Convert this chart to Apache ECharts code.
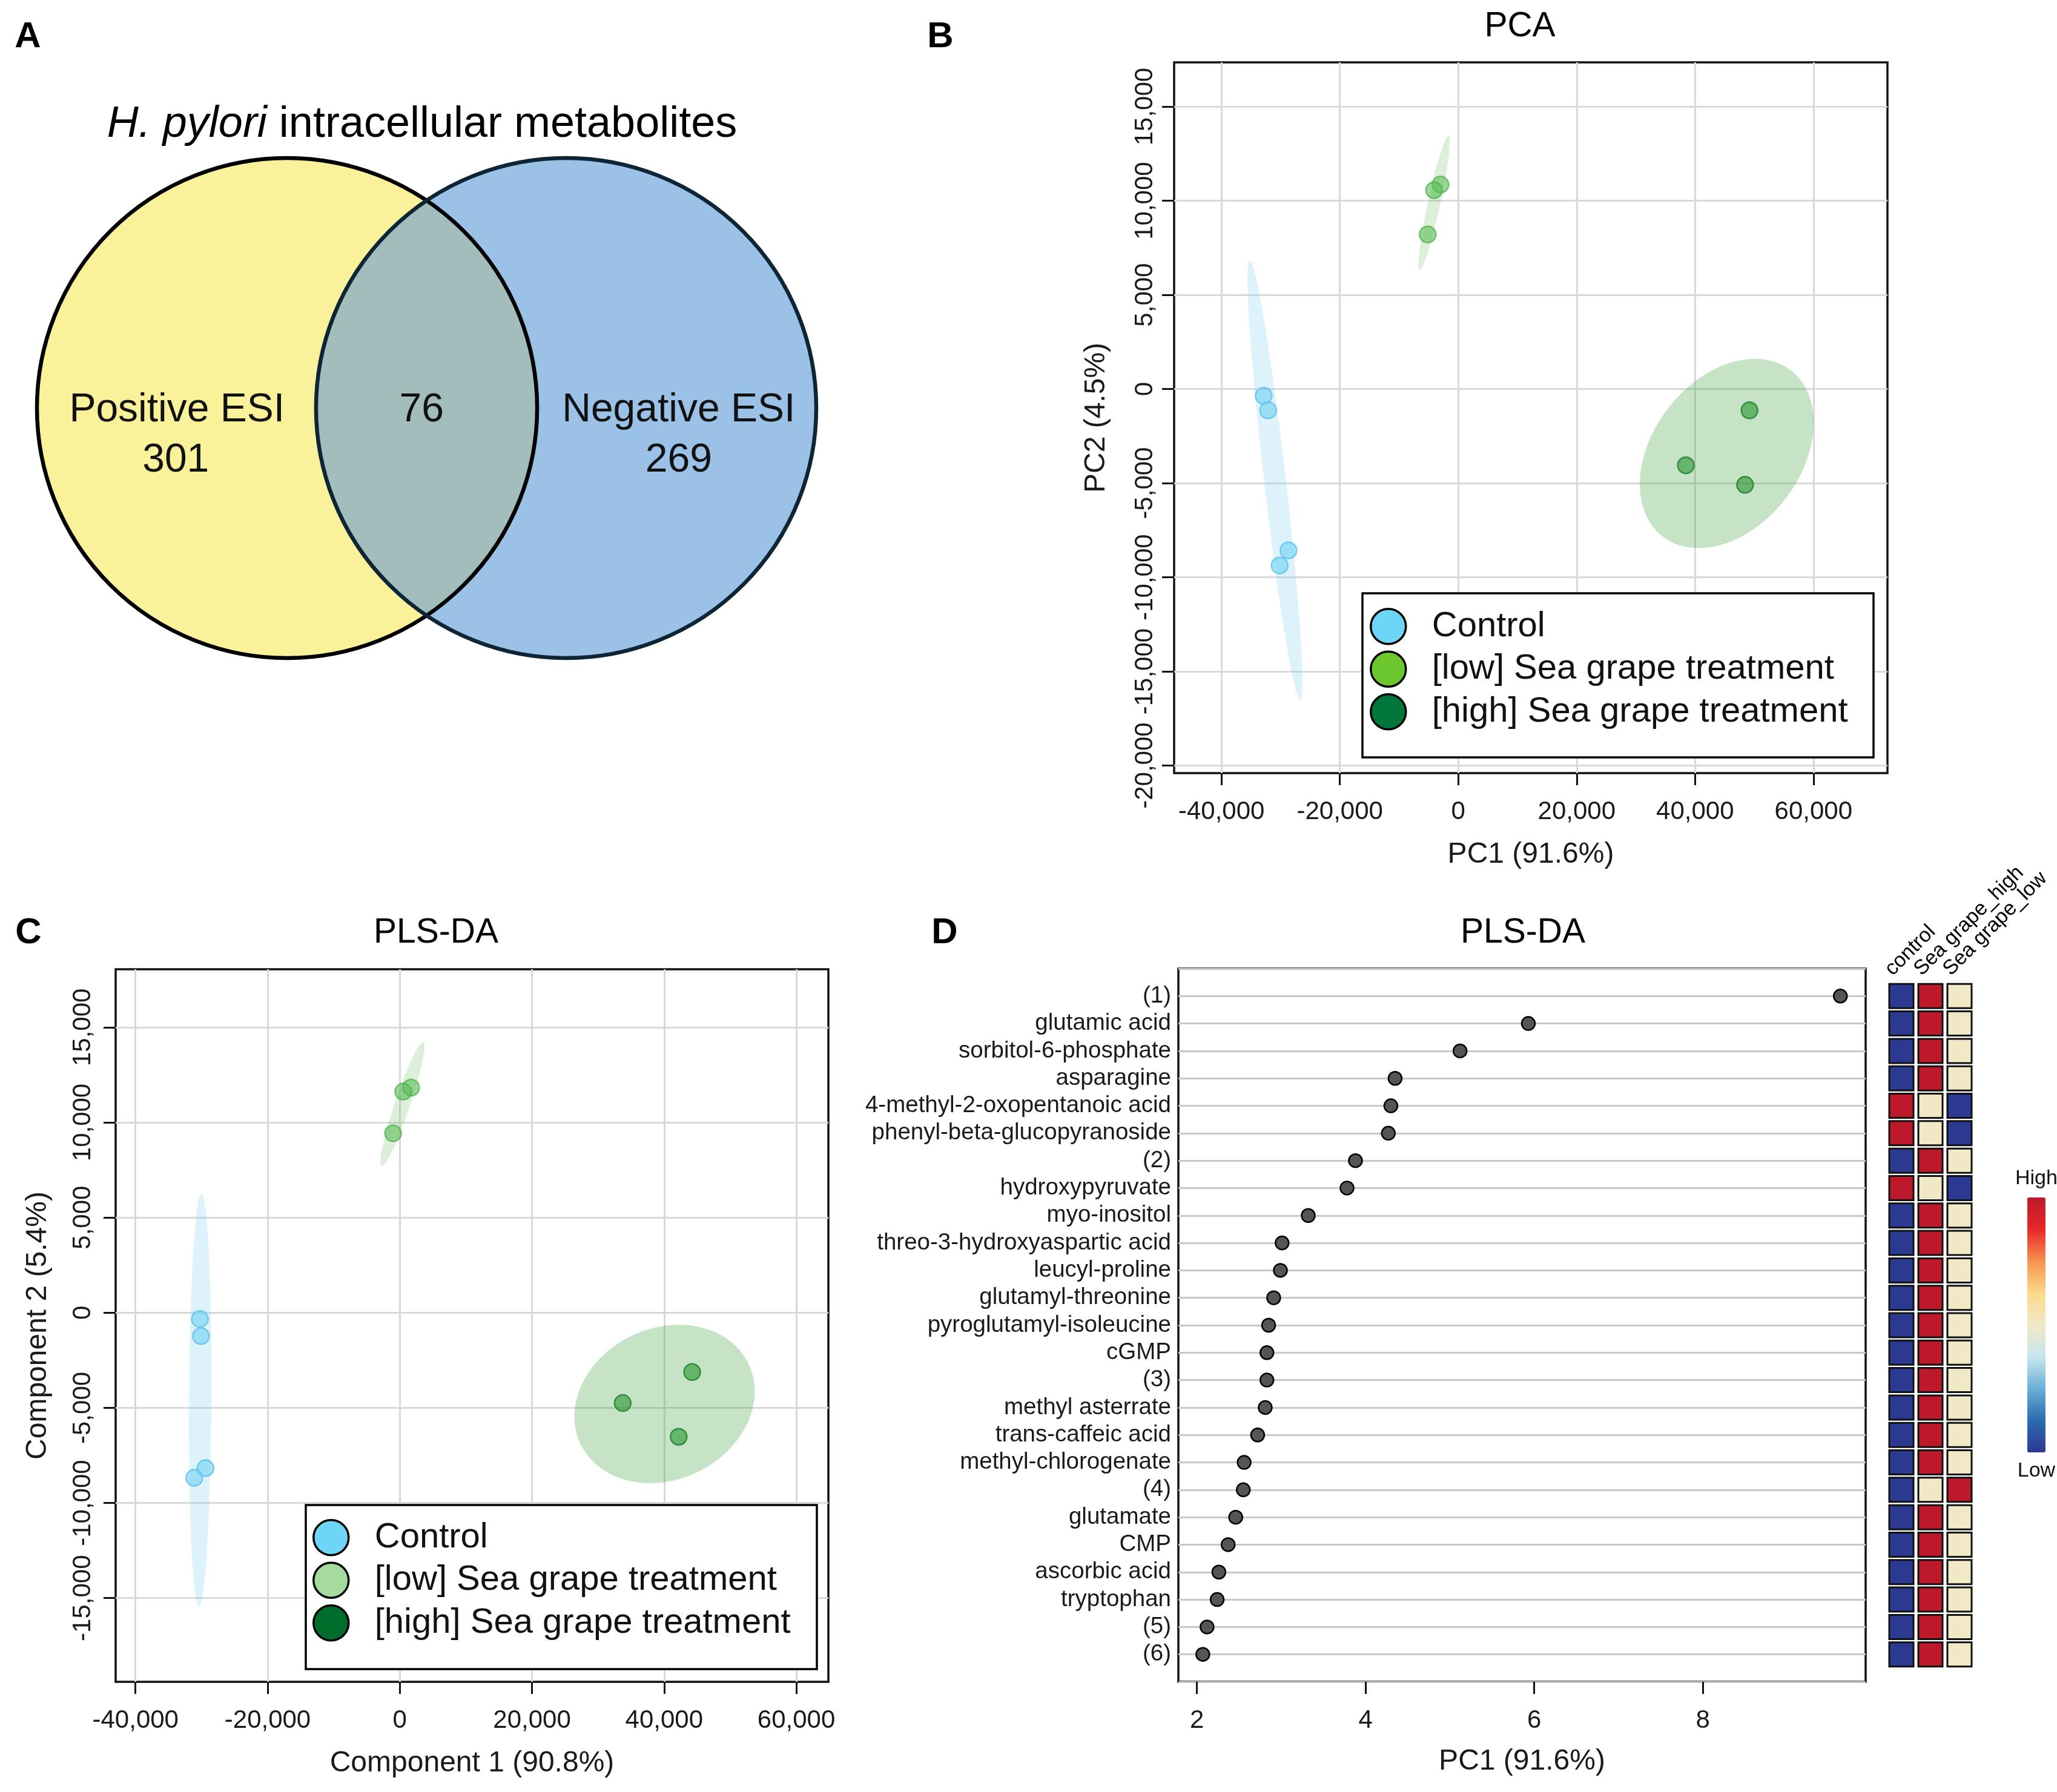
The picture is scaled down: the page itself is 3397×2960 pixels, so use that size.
<!DOCTYPE html>
<html>
<head>
<meta charset="utf-8">
<script src="https://cdn.jsdelivr.net/npm/echarts@6/dist/echarts.min.js"></script>
<style>
html,body{margin:0;padding:0;background:#ffffff;}
#chart{width:3397px;height:2960px;}
</style>
</head>
<body>
<div id="chart"></div>
<script>
// ---------------- DATA ----------------
const groupNames = ['Control', '[low] Sea grape treatment', '[high] Sea grape treatment'];

// Panel B: PCA scores [PC1, PC2]
const pcaControl = [[-32870, -360], [-32120, -1130], [-28680, -8570], [-30180, -9370]];
const pcaLow = [[-3010, 10860], [-4080, 10560], [-5160, 8210]];
const pcaHigh = [[49190, -1130], [38450, -4050], [48440, -5090]];

// Panel C: PLS-DA scores [Component 1, Component 2]
const plsControl = [[-30250, -330], [-30090, -1230], [-29410, -8170], [-31100, -8680]];
const plsLow = [[1700, 11830], [510, 11620], [-1020, 9430]];
const plsHigh = [[44240, -3120], [33730, -4750], [42200, -6520]];

// tick labels
const scoreXTicks = [-40000, -20000, 0, 20000, 40000, 60000];
const pcaYTicks = [-20000, -15000, -10000, -5000, 0, 5000, 10000, 15000];
const plsYTicks = [-15000, -10000, -5000, 0, 5000, 10000, 15000];
const vipXTicks = [2, 4, 6, 8];

// Panel D: top features
const vipNames = ['(1)', 'glutamic acid', 'sorbitol-6-phosphate', 'asparagine',
  '4-methyl-2-oxopentanoic acid', 'phenyl-beta-glucopyranoside', '(2)', 'hydroxypyruvate',
  'myo-inositol', 'threo-3-hydroxyaspartic acid', 'leucyl-proline', 'glutamyl-threonine',
  'pyroglutamyl-isoleucine', 'cGMP', '(3)', 'methyl asterrate', 'trans-caffeic acid',
  'methyl-chlorogenate', '(4)', 'glutamate', 'CMP', 'ascorbic acid', 'tryptophan', '(5)', '(6)'];
const vipScores = [9.63, 5.93, 5.12, 4.35, 4.30, 4.27, 3.88, 3.78, 3.32, 3.01, 2.99, 2.91,
  2.85, 2.83, 2.83, 2.81, 2.72, 2.56, 2.55, 2.46, 2.37, 2.26, 2.24, 2.12, 2.07];

// heatmap columns and levels (0 = low, 1 = middle, 2 = high)
const heatColumns = ['control', 'Sea grape_high', 'Sea grape_low'];
const heatLevels = [
  [0, 2, 1], [0, 2, 1], [0, 2, 1], [0, 2, 1], [2, 1, 0], [2, 1, 0], [0, 2, 1], [2, 1, 0],
  [0, 2, 1], [0, 2, 1], [0, 2, 1], [0, 2, 1], [0, 2, 1], [0, 2, 1], [0, 2, 1], [0, 2, 1],
  [0, 2, 1], [0, 2, 1], [0, 1, 2], [0, 2, 1], [0, 2, 1], [0, 2, 1], [0, 2, 1], [0, 2, 1], [0, 2, 1]];
const heatLegendText = ['High', 'Low'];

// Panel A: Venn
const vennSets = ['Positive ESI', 'Negative ESI'];
const vennCounts = [301, 76, 269]; // left only, shared, right only

// ---------------- STYLE ----------------
const FONT = '"Liberation Sans", Arial, Helvetica, sans-serif';
const TXT = '#1a1a1a';
const pointFill = ['rgba(110,210,245,0.6)', 'rgba(90,190,85,0.6)', 'rgba(40,150,50,0.6)'];
const pointBorder = ['rgba(100,195,235,0.85)', 'rgba(80,175,80,0.75)', 'rgba(30,125,40,0.8)'];
const ellipseFill = ['rgba(135,210,240,0.28)', 'rgba(100,185,90,0.23)', 'rgba(60,160,60,0.29)'];
const legendColorsB = ['#6dd6f7', '#6cc62d', '#00773a'];
const legendColorsC = ['#6dd6f7', '#a6dba0', '#006d2c'];
const heatColors = ['#2c3990', '#2a6bb0', '#6bb0d5', '#c6e6ee', '#f1e9c6', '#fcd98a', '#f6934e', '#e8262a', '#bc1a2b'];

function fmtThousands(v) { return Number(v).toLocaleString('en-US'); }

// 95% confidence ellipse from group points (chi-square 2 df)
function ellipsePoints(pts) {
  const n = pts.length;
  let mx = 0, my = 0;
  pts.forEach(p => { mx += p[0]; my += p[1]; });
  mx /= n; my /= n;
  let sxx = 0, syy = 0, sxy = 0;
  pts.forEach(p => { const dx = p[0] - mx, dy = p[1] - my; sxx += dx * dx; syy += dy * dy; sxy += dx * dy; });
  sxx /= (n - 1); syy /= (n - 1); sxy /= (n - 1);
  const L11 = Math.sqrt(sxx), L21 = sxy / L11, L22 = Math.sqrt(Math.max(syy - L21 * L21, 0));
  const t = Math.sqrt(5.991464547);
  const out = [];
  for (let k = 0; k < 160; k++) {
    const a = 2 * Math.PI * k / 160, u = Math.cos(a), v = Math.sin(a);
    out.push([mx + t * L11 * u, my + t * (L21 * u + L22 * v)]);
  }
  return { center: [mx, my], pts: out };
}

function ellipseSeries(groups, axisIdx) {
  return groups.map((g, i) => {
    const e = ellipsePoints(g);
    return {
      type: 'custom', name: 'ellipse-' + axisIdx + '-' + i,
      xAxisIndex: axisIdx, yAxisIndex: axisIdx, z: 1, silent: true,
      data: [e.center],
      renderItem: function (params, api) {
        return {
          type: 'polygon',
          shape: { points: e.pts.map(p => api.coord(p)) },
          style: { fill: ellipseFill[i], stroke: null }
        };
      }
    };
  });
}

function pointSeries(groups, axisIdx) {
  return groups.map((g, i) => ({
    type: 'scatter', name: groupNames[i], xAxisIndex: axisIdx, yAxisIndex: axisIdx, z: 2,
    symbol: 'circle', symbolSize: 27,
    itemStyle: { color: pointFill[i], borderColor: pointBorder[i], borderWidth: 2.5, opacity: 1 },
    data: g
  }));
}

function scoreXAxis(gi, min, max, name) {
  return {
    gridIndex: gi, type: 'value', min: min, max: max,
    axisLine: { show: false, onZero: false },
    axisTick: { show: true, length: 20, customValues: scoreXTicks, lineStyle: { color: '#111', width: 3 } },
    axisLabel: { show: true, customValues: scoreXTicks, formatter: fmtThousands, fontSize: 42, color: TXT, margin: 43, fontFamily: FONT },
    splitLine: { show: true, lineStyle: { color: '#d9d9d9', width: 3 } },
    name: name, nameLocation: 'middle', nameGap: 111,
    nameTextStyle: { fontSize: 48, color: TXT, fontFamily: FONT }
  };
}
function scoreYAxis(gi, min, max, ticks, name, margin) {
  return {
    gridIndex: gi, type: 'value', min: min, max: max,
    axisLine: { show: false, onZero: false },
    axisTick: { show: true, length: 20, customValues: ticks, lineStyle: { color: '#111', width: 3 } },
    axisLabel: { show: true, customValues: ticks, formatter: fmtThousands, rotate: 90, fontSize: 42, color: TXT, margin: margin, fontFamily: FONT },
    splitLine: { show: true, lineStyle: { color: '#d9d9d9', width: 3 } },
    name: name, nameLocation: 'middle', nameGap: 104,
    nameTextStyle: { fontSize: 48, color: TXT, fontFamily: FONT }
  };
}

const rowCats = [' '].concat(vipNames).concat(['  ']);

// Venn geometry (unit radius circles)
const vennDist = 1.116;
function renderVenn(params, api) {
  const D = vennDist;
  const c1 = api.coord([0, 0]), c2 = api.coord([D, 0]);
  const r = api.size([1, 1])[0];
  const a = Math.acos(D / 2);
  const lens = [];
  for (let k = 0; k <= 80; k++) {
    const ang = -a + 2 * a * k / 80;
    lens.push(api.coord([Math.cos(ang), Math.sin(ang)]));
  }
  for (let k = 0; k <= 80; k++) {
    const ang = Math.PI - a + 2 * a * k / 80;
    lens.push(api.coord([D + Math.cos(ang), Math.sin(ang)]));
  }
  const fs = 66;
  const txt = (s, pos) => ({ type: 'text', x: pos[0], y: pos[1], style: { text: s, fill: '#111', fontSize: fs, fontFamily: FONT, align: 'center', verticalAlign: 'middle' } });
  return {
    type: 'group',
    children: [
      { type: 'circle', shape: { cx: c1[0], cy: c1[1], r: r }, style: { fill: '#f9f29b', stroke: null } },
      { type: 'circle', shape: { cx: c2[0], cy: c2[1], r: r }, style: { fill: '#9bc2e6', stroke: null } },
      { type: 'polygon', shape: { points: lens }, style: { fill: '#a2bdbc', stroke: null } },
      { type: 'circle', shape: { cx: c1[0], cy: c1[1], r: r }, style: { fill: null, stroke: '#000000', lineWidth: 6.5 } },
      { type: 'circle', shape: { cx: c2[0], cy: c2[1], r: r }, style: { fill: null, stroke: '#0d2535', lineWidth: 6.5 } },
      txt(vennSets[0], api.coord([-0.44, -0.01])),
      txt(String(vennCounts[0]), api.coord([-0.445, -0.21])),
      txt(String(vennCounts[1]), api.coord([D / 2 - 0.02, -0.01])),
      txt(vennSets[1], api.coord([D + 0.45, -0.01])),
      txt(String(vennCounts[2]), api.coord([D + 0.45, -0.21]))
    ]
  };
}

const series = []
  .concat(ellipseSeries([pcaControl, pcaLow, pcaHigh], 0))
  .concat(pointSeries([pcaControl, pcaLow, pcaHigh], 0))
  .concat(ellipseSeries([plsControl, plsLow, plsHigh], 1))
  .concat(pointSeries([plsControl, plsLow, plsHigh], 1));

series.push({
  type: 'scatter', name: 'vip', xAxisIndex: 2, yAxisIndex: 2, z: 3,
  symbol: 'circle', symbolSize: 22,
  itemStyle: { color: '#555555', borderColor: '#000', borderWidth: 2.5, opacity: 1 },
  data: vipScores.map((v, i) => [v, vipNames[i]])
});
const heatData = [];
heatLevels.forEach((row, r) => row.forEach((lv, c) => heatData.push([heatColumns[c], vipNames[r], lv])));
const heatSeriesIndex = series.length;
series.push({
  type: 'scatter', name: 'heat', xAxisIndex: 3, yAxisIndex: 3, z: 3,
  symbol: 'rect', symbolSize: [40, 40],
  itemStyle: { borderColor: '#111', borderWidth: 3, opacity: 1 },
  data: heatData
});
series.push({
  type: 'custom', name: 'venn', xAxisIndex: 4, yAxisIndex: 4, z: 2, silent: true, clip: false,
  data: [[0, 0]], renderItem: renderVenn
});

function legendFor(left, top, colors) {
  return {
    left: left, top: top, orient: 'vertical', padding: 0, z: 6,
    icon: 'circle', itemWidth: 102, itemHeight: 58, itemGap: 9, selectedMode: false,
    textStyle: { fontSize: 58, color: '#111', fontFamily: FONT, padding: [0, 0, 0, 16] },
    data: groupNames.map((g, i) => ({ name: g, itemStyle: { color: colors[i], borderColor: '#000', borderWidth: 3.5, opacity: 1 } }))
  };
}
function label(text, x, y, size, bold) {
  return { text: text, left: x, top: y, textAlign: 'center', textVerticalAlign: 'middle', padding: 0,
    textStyle: { fontSize: size, fontWeight: bold ? 'bold' : 'normal', color: '#000', fontFamily: FONT } };
}

const option = {
  animation: false,
  backgroundColor: '#ffffff',
  textStyle: { fontFamily: FONT },
  title: [
    { text: '{i|H. pylori} intracellular metabolites', left: 697, top: 206, textAlign: 'center', textVerticalAlign: 'middle', padding: 0,
      textStyle: { fontSize: 72, color: '#000', fontWeight: 'normal', fontFamily: FONT,
        rich: { i: { fontSize: 72, fontStyle: 'italic', color: '#000', fontFamily: FONT } } } },
    label('A', 46, 61, 60, true),
    label('B', 1553, 61, 60, true),
    label('C', 47, 1541, 60, true),
    label('D', 1560, 1541, 60, true),
    label('PCA', 2510, 44, 57, false),
    label('PLS-DA', 720, 1541, 57, false),
    label('PLS-DA', 2515, 1541, 57, false)
  ],
  grid: [
    { left: 1939, top: 103, width: 1178, height: 1174, show: true, borderColor: '#111', borderWidth: 3.5, outerBoundsMode: 'none' },
    { left: 191, top: 1601, width: 1177, height: 1177, show: true, borderColor: '#111', borderWidth: 3.5, outerBoundsMode: 'none' },
    { left: 1946, top: 1600, width: 1135, height: 1178, show: true, borderColor: '#111', borderWidth: 3.5, outerBoundsMode: 'none' },
    { left: 3116, top: 1600, width: 144, height: 1178, show: false, outerBoundsMode: 'none' },
    { left: 61, top: 261, width: 1287, height: 826, show: false, outerBoundsMode: 'none' }
  ],
  xAxis: [
    scoreXAxis(0, -48000, 72500, 'PC1 (91.6%)'),
    scoreXAxis(1, -43000, 64850, 'Component 1 (90.8%)'),
    {
      gridIndex: 2, type: 'value', min: 1.78, max: 9.93,
      axisLine: { show: false, onZero: false },
      axisTick: { show: true, length: 20, customValues: vipXTicks, lineStyle: { color: '#111', width: 3 } },
      axisLabel: { show: true, customValues: vipXTicks, fontSize: 42, color: TXT, margin: 43, fontFamily: FONT },
      splitLine: { show: false },
      name: 'PC1 (91.6%)', nameLocation: 'middle', nameGap: 108,
      nameTextStyle: { fontSize: 48, color: TXT, fontFamily: FONT }
    },
    {
      gridIndex: 3, type: 'category', position: 'top', data: heatColumns, boundaryGap: true,
      axisLine: { show: false }, axisTick: { show: false }, splitLine: { show: false },
      axisLabel: { show: true, interval: 0, rotate: -45, margin: 15, padding: [0, 0, 0, -30], fontSize: 34, color: '#000', fontFamily: FONT }
    },
    { gridIndex: 4, type: 'value', min: -1, max: 1 + vennDist, show: false }
  ],
  yAxis: [
    scoreYAxis(0, -20400, 17350, pcaYTicks, 'PC2 (4.5%)', 27),
    scoreYAxis(1, -19400, 18050, plsYTicks, 'Component 2 (5.4%)', 33),
    {
      gridIndex: 2, type: 'category', data: rowCats, inverse: true, boundaryGap: false,
      axisLine: { show: false }, axisTick: { show: false },
      axisLabel: { show: true, interval: 0, fontSize: 38.5, color: TXT, margin: 12, fontFamily: FONT },
      splitLine: { show: true, interval: 0, lineStyle: { color: '#c8c8c8', width: 3 } }
    },
    {
      gridIndex: 3, type: 'category', data: rowCats, inverse: true, boundaryGap: false, show: false
    },
    { gridIndex: 4, type: 'value', min: -1, max: 1, show: false }
  ],
  legend: [legendFor(2262, 1004, legendColorsB), legendFor(516, 2509, legendColorsC)],
  visualMap: [{
    type: 'continuous', seriesIndex: heatSeriesIndex, dimension: 2, min: 0, max: 2,
    calculable: false, hoverLink: false, orient: 'vertical', left: 3328, top: 1930, padding: 0,
    itemWidth: 30, itemHeight: 421, text: heatLegendText, textGap: 14,
    textStyle: { fontSize: 34, color: '#111', fontFamily: FONT },
    inRange: { color: heatColors }
  }],
  graphic: [
    { type: 'rect', z: 5, shape: { x: 2250, y: 980, width: 844, height: 271 }, style: { fill: '#ffffff', stroke: '#000', lineWidth: 3.5 } },
    { type: 'rect', z: 5, shape: { x: 505, y: 2486, width: 844, height: 271 }, style: { fill: '#ffffff', stroke: '#000', lineWidth: 3.5 } }
  ],
  series: series
};

const chart = echarts.init(document.getElementById('chart'), null, { renderer: 'canvas' });
chart.setOption(option);
</script>
</body>
</html>
